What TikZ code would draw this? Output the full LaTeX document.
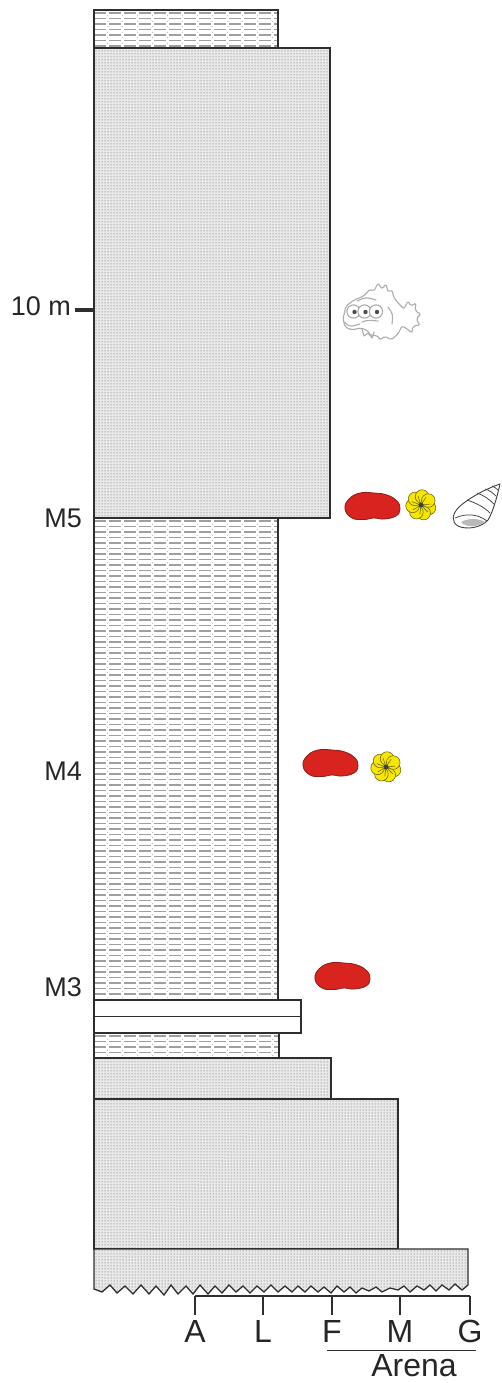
\documentclass[tikz,border=0pt]{standalone}
\usepackage{fontspec}
\setmainfont{Liberation Sans}
\usetikzlibrary{patterns}
\definecolor{ostred}{HTML}{D8231E}
\definecolor{ostline}{HTML}{8A1E1A}
\definecolor{foramyel}{HTML}{F6E600}
\definecolor{foramline}{HTML}{6E6A10}
\definecolor{bedline}{HTML}{2E2E2E}

% shale bed: dashed horizontal laminae clipped to the bed, then its outline
\newcommand\shalebed[4]{%
  \pgfmathsetmacro\laminaA{#2+3}%
  \pgfmathsetmacro\laminaB{#2+8.5}%
  \begin{scope}
    \clip (#1,#2) rectangle (#3,#4);
    \fill[white] (#1,#2) rectangle (#3,#4);
    \foreach \yy in {\laminaA,\laminaB,...,#4}
      \draw[shaleline] (#1,\yy) -- (#3,\yy);
    \foreach \xx in {0,15,...,200}
      \draw[shaledot] (#1+13.5+\xx,#2) -- (#1+13.5+\xx,#4);
  \end{scope}
  \draw[bed] (#1,#2) rectangle (#3,#4);
}

\begin{document}
\begin{tikzpicture}[x=1pt,y=-1pt,
  bed/.style={draw=bedline, line width=1.3pt},
  sand/.style={preaction={fill=gray!17},
               preaction={pattern=dots, pattern color=black!65},
               draw=bedline, line width=1.3pt},
  shaleline/.style={draw=gray!75, line width=1.6pt, dash pattern=on 12pt off 3pt},
  shaledot/.style={draw=gray!50, line width=0.8pt, dash pattern=on 1pt off 4.5pt},
  lab/.style={font=\fontsize{27}{30}\selectfont, text=black!85, inner sep=0pt},
  scalelab/.style={font=\fontsize{32}{36}\selectfont, text=black!85, inner sep=0pt},
  fishline/.style={draw=gray!65, line width=1.1pt, line join=round, line cap=round},
  ostracod/.pic={
    \path[fill=ostred, draw=ostline, line width=0.8pt]
      plot[smooth cycle, tension=0.75] coordinates
      {(-27,3) (-23,-7) (-12,-13) (2,-13) (15,-11) (25,-5) (28,3) (24,10)
       (12,13) (2,12) (-8,13.5) (-20,12)};
  },
  foram/.pic={
    \foreach \a in {0,51.43,...,359}
      \path[fill=foramyel, draw=foramline, line width=0.6pt] (\a+20:8.5) circle (6.8);
    \foreach \a in {0,51.43,...,359}
      \draw[foramline, line width=0.6pt] (0,0) -- (\a-5.7:9.5);
    \fill[black!75] (0,0) circle (2.4);
  }
]
\useasboundingbox (0,0) rectangle (502,1383);

% ---- column, top to bottom ----
\shalebed{94}{10}{278}{48}
\path[sand] (94,48) rectangle (330,518);
\shalebed{94}{518}{278}{1000}
\draw[bed, fill=white] (94,1000) rectangle (301,1016.5);
\draw[bed, fill=white] (94,1016.5) rectangle (301,1033);
\shalebed{94}{1033}{279}{1058}
\path[sand] (94,1058) rectangle (331,1099);
\path[sand] (94,1099) rectangle (398,1249);
% lowest bed with an erosive, saw-toothed base
\path[sand, line join=miter] (94,1249) -- (468,1249) -- (468,1285)
  -- (462,1290) -- (455,1284) -- (449,1290) -- (442,1285) -- (436,1291)
  -- (430,1285) -- (424,1290) -- (417,1286) -- (410,1292) -- (404,1286)
  -- (398,1290) -- (390,1288) -- (382,1292) -- (376,1287) -- (369,1291)
  -- (362,1288) -- (356,1293) -- (350,1287) -- (344,1292) -- (337,1286)
  -- (331,1293) -- (324,1287) -- (318,1292) -- (311,1286) -- (305,1292)
  -- (298,1286) -- (292,1292) -- (285,1286) -- (278,1292) -- (271,1285)
  -- (264,1292) -- (257,1286) -- (250,1293) -- (243,1286) -- (236,1292)
  -- (229,1285) -- (222,1293) -- (215,1286) -- (208,1294) -- (200,1285)
  -- (193,1294) -- (186,1286) -- (178,1294) -- (171,1285) -- (164,1295)
  -- (156,1286) -- (149,1294) -- (141,1285) -- (133,1294) -- (125,1286)
  -- (117,1293) -- (110,1285) -- (102,1292) -- (94,1289) -- cycle;

% ---- height marker and sample levels ----
\coordinate (tickL) at (75,310);
\coordinate (tickR) at (94,310);
\draw[bedline, line width=4.5pt] (tickL) -- (tickR);
\node[lab, anchor=base east] (tenm) at (71,315) {10 m};
\node[lab, anchor=base east] (m5) at (82,527) {M5};
\node[lab, anchor=base east] (m4) at (82,780) {M4};
\node[lab, anchor=base east] (m3) at (82,996) {M3};

% ---- grain-size scale ----
\foreach \n/\x in {A/195,L/263,F/332,M/400,G/470}
  \coordinate (t\n) at (\x,1296);
\draw[bedline, line width=1.2pt] (tA) -- (tG);
\foreach \n in {A,L,F,M,G}{
  \draw[bedline, line width=1.2pt] (t\n) -- ++(0,19);
  \node[scalelab, anchor=base] (l\n) at ([yshift=-46pt]t\n) {\n};
}
\coordinate (arenaL) at (327,1350);
\coordinate (arenaR) at (476,1350);
\draw[bedline, line width=0.8pt] (arenaL) -- (arenaR);
\node[scalelab, anchor=base] (arena) at (414,1376) {Arena};

% ---- fossils ----
% three-eyed fish
\path[fishline, fill=white, rounded corners=2pt]
  (343,319) -- (346,306) -- (354,300) -- (364,296) -- (370,289) -- (374,291)
  -- (378,283) -- (382,289) -- (386,284) -- (388,292) -- (392,290) -- (394,298)
  -- (399,304) -- (404,309) -- (408,301) -- (411,306) -- (416,303) -- (415,311)
  -- (421,314) -- (416,319) -- (420,325) -- (413,326) -- (412,333) -- (406,328)
  -- (402,326) -- (398,334) -- (391,340) -- (385,336) -- (380,340) -- (377,335)
  -- (371,336) -- (367,330) -- (360,328) -- (352,330) -- (345,327) -- cycle;
\draw[fishline] (344,322) .. controls (350,327) .. (360,324);
\draw[fishline] (362,329) -- (364,336) -- (368,333) -- (372,338) -- (374,332);
\draw[fishline] (388,307) .. controls (393,314) .. (392,324);
\draw[fishline] (357,301) .. controls (366,297) .. (376,300);
\draw[fishline] (362,322) .. controls (368,320) .. (378,321);
\foreach \ex in {353.5,364.5,376}{
  \draw[fishline, fill=white] (\ex,311.5) circle (6.6);
  \fill[black!70] (\ex+1,312) circle (2.2);
}

% ostracods
\pic at (372,506) {ostracod};
\pic at (330,763) {ostracod};
\pic at (342,976) {ostracod};

% planktic forams
\pic at (421,505) {foram};
\pic at (386,767) {foram};

% high-spired gastropod
\path[draw=black!75, fill=white, line width=0.9pt, line join=round]
  (500,484) .. controls (488,488) and (470,497) .. (459,507)
  .. controls (452,514) and (451,522) .. (458,526)
  .. controls (466,530) and (481,528) .. (488,520)
  .. controls (493,512) and (497,497) .. (500,484) -- cycle;
\fill[gray!55] (461,522) .. controls (468,518) and (478,518) .. (485,522)
  .. controls (478,527) and (466,528) .. (461,522) -- cycle;
\draw[black!75, line width=0.75pt] (455,518) .. controls (466,513) and (478,514) .. (487,521);
\draw[black!75, line width=0.75pt] (467,500) .. controls (476,503) and (484,507) .. (490,513);
\draw[black!75, line width=0.75pt] (477,493) .. controls (483,495) and (489,499) .. (494,504);
\draw[black!75, line width=0.75pt] (485,489) .. controls (489,490) and (493,493) .. (496,496);
\draw[black!75, line width=0.75pt] (492,486) .. controls (494,487) and (496,488) .. (498,490);

\end{tikzpicture}
\end{document}
